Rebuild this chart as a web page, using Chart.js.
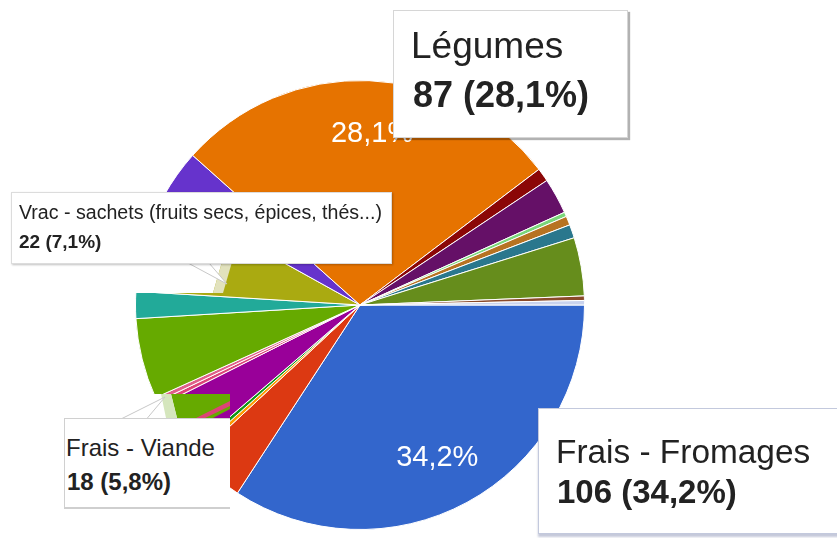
<!DOCTYPE html>
<html><head><meta charset="utf-8">
<script src="https://cdn.jsdelivr.net/npm/chart.js@4"></script>
<style>
html,body{margin:0;padding:0;background:#fff;}
#wrap{position:relative;width:837px;height:538px;overflow:hidden;font-family:"Liberation Sans",Arial,sans-serif;color:#222;}
canvas{position:absolute;left:0;top:0;}
.box{position:absolute;background:#fff;box-sizing:border-box;}
.t{position:absolute;white-space:nowrap;line-height:1;}
</style></head><body>
<div id="wrap"><canvas id="c" width="837" height="538"></canvas></div>
<script>
// ---- data (clockwise from 3 o'clock) ----
const categories = [
  "Frais - Fromages", "Autre 1", "Autre 2", "Autre 3", "Autre 4", "Autre 5", "Autre 6",
  "Frais - Viande", "Autre 7", "Vrac - sachets (fruits secs, épices, thés...)", "Autre 8",
  "Légumes", "Autre 9", "Autre 10", "Autre 11", "Autre 12", "Autre 13", "Autre 14", "Autre 15", "Autre 16"
];
const counts = [106, 12, 1, 1, 12, 1, 1, 18, 6, 22, 11, 87, 3, 8, 1, 2, 3, 13, 1, 1];
const sliceColors = [
  "#3366cc", "#dc3912", "#ff9900", "#109618", "#990099", "#dd4477", "#e0608a",
  "#66aa00", "#22aa99", "#aaaa11", "#6633cc", "#e67300", "#8b0707", "#651067",
  "#7ad67a", "#b77322", "#2a778d", "#668d1c", "#8a4a2a", "#c9d3ee"
];
const calloutCategories = ["Légumes", "Vrac - sachets (fruits secs, épices, thés...)", "Frais - Viande", "Frais - Fromages"];

const total = counts.reduce((a, b) => a + b, 0);
const pct = v => (v / total * 100).toFixed(1).replace('.', ',') + '%';

const FONT = '"Liberation Sans", Arial, sans-serif';

const sliceLabelPlugin = {
  id: 'sliceLabels',
  afterDatasetsDraw(chart) {
    const ctx = chart.ctx;
    const meta = chart.getDatasetMeta(0);
    ctx.save();
    ctx.fillStyle = '#fff';
    ctx.font = '29px ' + FONT;
    ctx.textAlign = 'center';
    ctx.textBaseline = 'middle';
    meta.data.forEach((arc, i) => {
      const v = counts[i];
      if (v / total < 0.2) return;
      const p = arc.getProps(['x', 'y', 'startAngle', 'endAngle', 'outerRadius'], true);
      const mid = (p.startAngle + p.endAngle) / 2 + 0.03;
      const rr = p.outerRadius * 0.765;
      ctx.fillText(pct(v), p.x + Math.cos(mid) * rr, p.y + Math.sin(mid) * rr);
    });
    ctx.restore();
  }
};

// decorations from the pasted tooltip snapshots
const overlayPlugin = {
  id: 'overlay',
  afterDraw(chart) {
    const ctx = chart.ctx;
    ctx.save();
    // Vrac: white area under its box with pointer
    ctx.fillStyle = '#fff';
    ctx.beginPath();
    ctx.moveTo(120, 262); ctx.lineTo(222, 262); ctx.lineTo(213, 293); ctx.lineTo(120, 293);
    ctx.closePath(); ctx.fill();
    ctx.fillStyle = '#e2e2bd';
    ctx.beginPath();
    ctx.moveTo(222, 262); ctx.lineTo(232, 262); ctx.lineTo(223, 293); ctx.lineTo(213, 293);
    ctx.closePath(); ctx.fill();
    ctx.fillStyle = '#fff';
    ctx.strokeStyle = '#c8c8c8';
    ctx.lineWidth = 1;
    ctx.beginPath();
    ctx.moveTo(188, 263); ctx.lineTo(227, 284); ctx.lineTo(209, 263);
    ctx.fill(); ctx.stroke();

    // Viande: top strip of its snapshot
    ctx.fillStyle = '#fff';
    ctx.fillRect(64, 394, 166, 25);
    ctx.fillStyle = '#66aa00';
    ctx.beginPath();
    ctx.moveTo(171, 394); ctx.lineTo(230, 394); ctx.lineTo(230, 418); ctx.lineTo(177, 418);
    ctx.closePath(); ctx.fill();
    ctx.fillStyle = '#dd4477';
    ctx.beginPath();
    ctx.moveTo(196, 418); ctx.lineTo(230, 401); ctx.lineTo(230, 406); ctx.lineTo(205, 418);
    ctx.closePath(); ctx.fill();
    ctx.fillStyle = '#990099';
    ctx.beginPath();
    ctx.moveTo(213, 418); ctx.lineTo(230, 409); ctx.lineTo(230, 418);
    ctx.closePath(); ctx.fill();
    ctx.fillStyle = '#d5e6bd';
    ctx.beginPath();
    ctx.moveTo(161, 394); ctx.lineTo(171, 394); ctx.lineTo(177, 418); ctx.lineTo(166, 418);
    ctx.closePath(); ctx.fill();
    ctx.fillStyle = '#fff';
    ctx.strokeStyle = '#c8c8c8';
    ctx.beginPath();
    ctx.moveTo(122, 418.5); ctx.lineTo(165, 397); ctx.lineTo(147, 418.5);
    ctx.fill(); ctx.stroke();
    ctx.restore();
  }
};

const chart = new Chart(document.getElementById('c'), {
  type: 'pie',
  data: {
    labels: categories,
    datasets: [{ data: counts, backgroundColor: sliceColors, borderColor: '#fff', borderWidth: 1, hoverOffset: 0 }]
  },
  options: {
    responsive: false,
    animation: false,
    events: [],
    rotation: 90,
    layout: { padding: { top: 80, left: 135, right: 252, bottom: 8 } },
    plugins: { legend: { display: false }, tooltip: { enabled: false } }
  },
  plugins: [sliceLabelPlugin, overlayPlugin]
});

// ---- callout boxes (HTML text over the chart) ----
const wrap = document.getElementById('wrap');
function addBox(l, t, w, h, css) {
  const d = document.createElement('div');
  d.className = 'box';
  Object.assign(d.style, { left: l + 'px', top: t + 'px', width: w + 'px', height: h + 'px' }, css);
  wrap.appendChild(d);
}
function addText(txt, x, base, size, bold) {
  const d = document.createElement('div');
  d.className = 't';
  d.textContent = txt;
  d.style.left = x + 'px';
  d.style.top = (base - size * 0.8465) + 'px';
  d.style.fontSize = size + 'px';
  if (bold) d.style.fontWeight = 'bold';
  wrap.appendChild(d);
}
const layouts = [
  { box: [393, 10, 235, 128], css: { border: '1px solid #d6d6d6', boxShadow: '2px 2px 1px rgba(0,0,0,0.3)' },
    l1: [411, 58, 37], l2: [413, 107, 36] },
  { box: [11, 192, 381, 72], css: { border: '1px solid #dcdcdc', boxShadow: '1px 1px 2px rgba(0,0,0,0.25)' },
    l1: [19, 220, 19.6], l2: [19, 248, 19] },
  { box: [64, 418, 166, 91], css: { borderTop: '1px solid #d0d0d0', borderLeft: '1px solid #d0d0d0', borderBottom: '2px solid #cfcfcf' },
    l1: [66, 456, 24], l2: [67, 490, 24] },
  { box: [538, 408, 310, 126], css: { border: '1px solid #c3c9dd', boxShadow: '0 3px 2px rgba(90,100,150,0.35)' },
    l1: [556, 463, 33.4], l2: [557, 503, 33] }
];
calloutCategories.forEach((name, k) => {
  const i = categories.indexOf(name);
  const L = layouts[k];
  addBox(L.box[0], L.box[1], L.box[2], L.box[3], L.css);
  addText(categories[i], L.l1[0], L.l1[1], L.l1[2], false);
  addText(counts[i] + ' (' + pct(counts[i]) + ')', L.l2[0], L.l2[1], L.l2[2], true);
});
</script>
</body></html>
